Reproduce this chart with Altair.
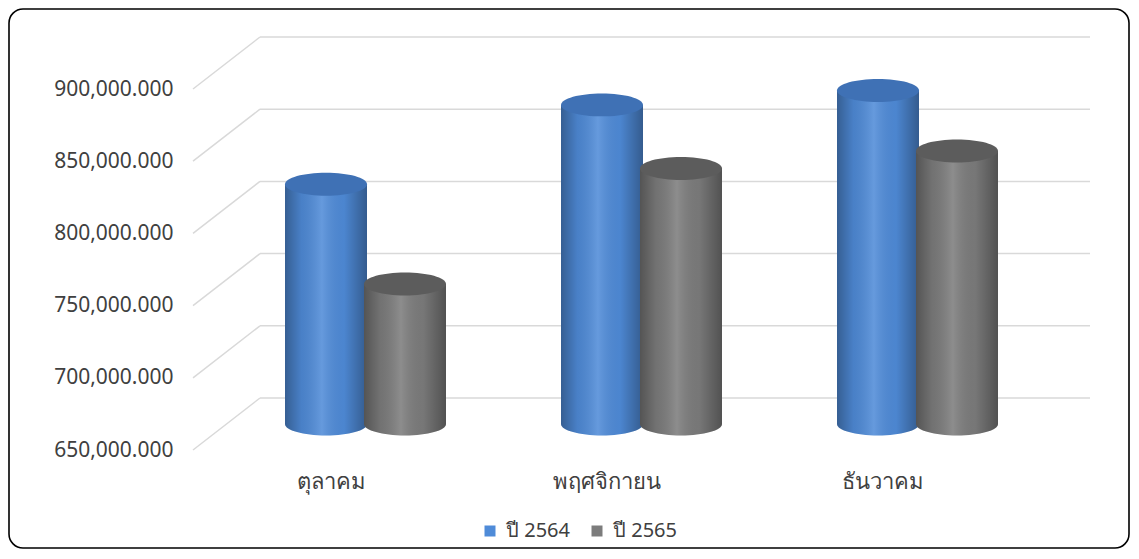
import altair as alt
import pandas as pd

# ---- data ----
categories = ["ตุลาคม", "พฤศจิกายน", "ธันวาคม"]
series_names = ["ปี 2564", "ปี 2565"]
values_2564 = [816000, 871000, 881000]
values_2565 = [747000, 827000, 839000]
tick_values = [650000, 700000, 750000, 800000, 850000, 900000]
y_min, y_max = 650000, 900000

# ---- styling ----
body_colors = ["#4f8bd8", "#7c7c7c"]
cap_colors = ["#3f71b5", "#5c5c5c"]
series_xoffsets = [-5, 74]
BAR_W = 82
W, H = 828, 361
BACK_X, BACK_Y = 67, -52   # back wall offset (pseudo 3D)
MID_Y = -26                # bars stand mid-depth
GRID_COLOR = "#d9d9d9"
TEXT_COLOR = "#404040"
FONT = "Noto Sans"

ELLIPSE = "M-1,0A1,0.28,0,1,1,1,0A1,0.28,0,1,1,-1,0Z"

shade = {
    "gradient": "linear", "x1": 0, "y1": 0, "x2": 1, "y2": 0,
    "stops": [
        {"offset": 0.0, "color": "rgba(0,0,0,0.32)"},
        {"offset": 0.2, "color": "rgba(0,0,0,0.08)"},
        {"offset": 0.45, "color": "rgba(255,255,255,0.13)"},
        {"offset": 0.72, "color": "rgba(0,0,0,0.04)"},
        {"offset": 1.0, "color": "rgba(0,0,0,0.34)"},
    ],
}

frames = []
for name, vals in zip(series_names, [values_2564, values_2565]):
    frames.append(pd.DataFrame({"month": categories, "series": name,
                                "value": vals, "base": y_min}))
df = pd.DataFrame(pd.concat(frames, ignore_index=True))
grid_df = pd.DataFrame({"tick": tick_values})
box_df = pd.DataFrame({"k": [0]})

x_axis = alt.Axis(title=None, labelFontSize=22, labelColor=TEXT_COLOR, labelFont=FONT,
                  domain=False, ticks=False, tickSize=0, labelPadding=21, labelAngle=0,
                  grid=False)
y_axis = alt.Axis(title=None, values=tick_values, format=",.3f", labelFontSize=21,
                  labelColor=TEXT_COLOR, labelFont=FONT, domain=False, ticks=False,
                  tickSize=0, grid=False, labelPadding=20)
y_scale = alt.Scale(domain=[y_min, y_max], nice=False, zero=False)
x_scale = alt.Scale(domain=categories, paddingInner=0, paddingOuter=0)

def X():
    return alt.X("month:N", sort=categories, scale=x_scale, axis=x_axis)

border = alt.Chart(box_df).mark_rect(
    fillOpacity=0, stroke="black", strokeWidth=1.6, cornerRadius=14
).encode(x=alt.value(-184), x2=alt.value(W + 108), y=alt.value(-80), y2=alt.value(H + 98))

grid_slant = alt.Chart(grid_df).mark_rule(
    color=GRID_COLOR, strokeWidth=1.5, y2Offset=BACK_Y
).encode(
    x=alt.value(0), x2=alt.value(BACK_X),
    y=alt.Y("tick:Q", scale=y_scale, axis=y_axis), y2="tick:Q",
)
grid_back = alt.Chart(grid_df).mark_rule(
    color=GRID_COLOR, strokeWidth=1.5, yOffset=BACK_Y
).encode(
    x=alt.value(BACK_X), x2=alt.value(W + 69),
    y=alt.Y("tick:Q", scale=y_scale, axis=y_axis),
)

layers = [border, grid_slant, grid_back]
for i, name in enumerate(series_names):
    base = alt.Chart(df).transform_filter(alt.datum.series == name)
    off = series_xoffsets[i]
    bottom = base.mark_point(
        shape=ELLIPSE, size=BAR_W * BAR_W, filled=True, opacity=1, strokeWidth=0,
        fill=body_colors[i], xOffset=off, yOffset=MID_Y,
    ).encode(x=X(), y=alt.Y("base:Q", scale=y_scale, axis=y_axis))
    bottom_shade = base.mark_point(
        shape=ELLIPSE, size=BAR_W * BAR_W, filled=True, opacity=1, strokeWidth=0,
        fill=shade, xOffset=off, yOffset=MID_Y,
    ).encode(x=X(), y=alt.Y("base:Q", scale=y_scale, axis=y_axis))
    body = base.mark_bar(
        width=BAR_W, xOffset=off, yOffset=MID_Y, y2Offset=MID_Y,
    ).encode(
        x=X(),
        y=alt.Y("value:Q", scale=y_scale, axis=y_axis),
        y2="base:Q",
        color=alt.Color("series:N", scale=alt.Scale(domain=series_names, range=body_colors),
                        legend=alt.Legend(title=None)),
    )
    body_shade = base.mark_bar(
        width=BAR_W, xOffset=off, yOffset=MID_Y, y2Offset=MID_Y, fill=shade,
    ).encode(x=X(), y=alt.Y("value:Q", scale=y_scale, axis=y_axis), y2="base:Q")
    cap = base.mark_point(
        shape=ELLIPSE, size=BAR_W * BAR_W, filled=True, opacity=1, strokeWidth=0,
        fill=cap_colors[i], xOffset=off, yOffset=MID_Y,
    ).encode(x=X(), y=alt.Y("value:Q", scale=y_scale, axis=y_axis))
    layers += [bottom, bottom_shade, body, body_shade, cap]

chart = alt.layer(*layers).properties(
    width=W, height=H,
    padding={"left": 185, "top": 81, "right": 109, "bottom": 99},
    autosize=alt.AutoSizeParams(type="none"),
    background="white",
).configure(font=FONT).configure_view(stroke=None, strokeWidth=0).configure_legend(
    orient="none", legendX=287, legendY=432, direction="horizontal",
    symbolType="square", symbolSize=121, symbolStrokeWidth=0,
    labelFontSize=20, labelColor=TEXT_COLOR, labelFont=FONT, labelOffset=6,
    columnPadding=17, padding=0,
)

chart.save("out.html", embed_options={"renderer": "svg", "actions": False})
